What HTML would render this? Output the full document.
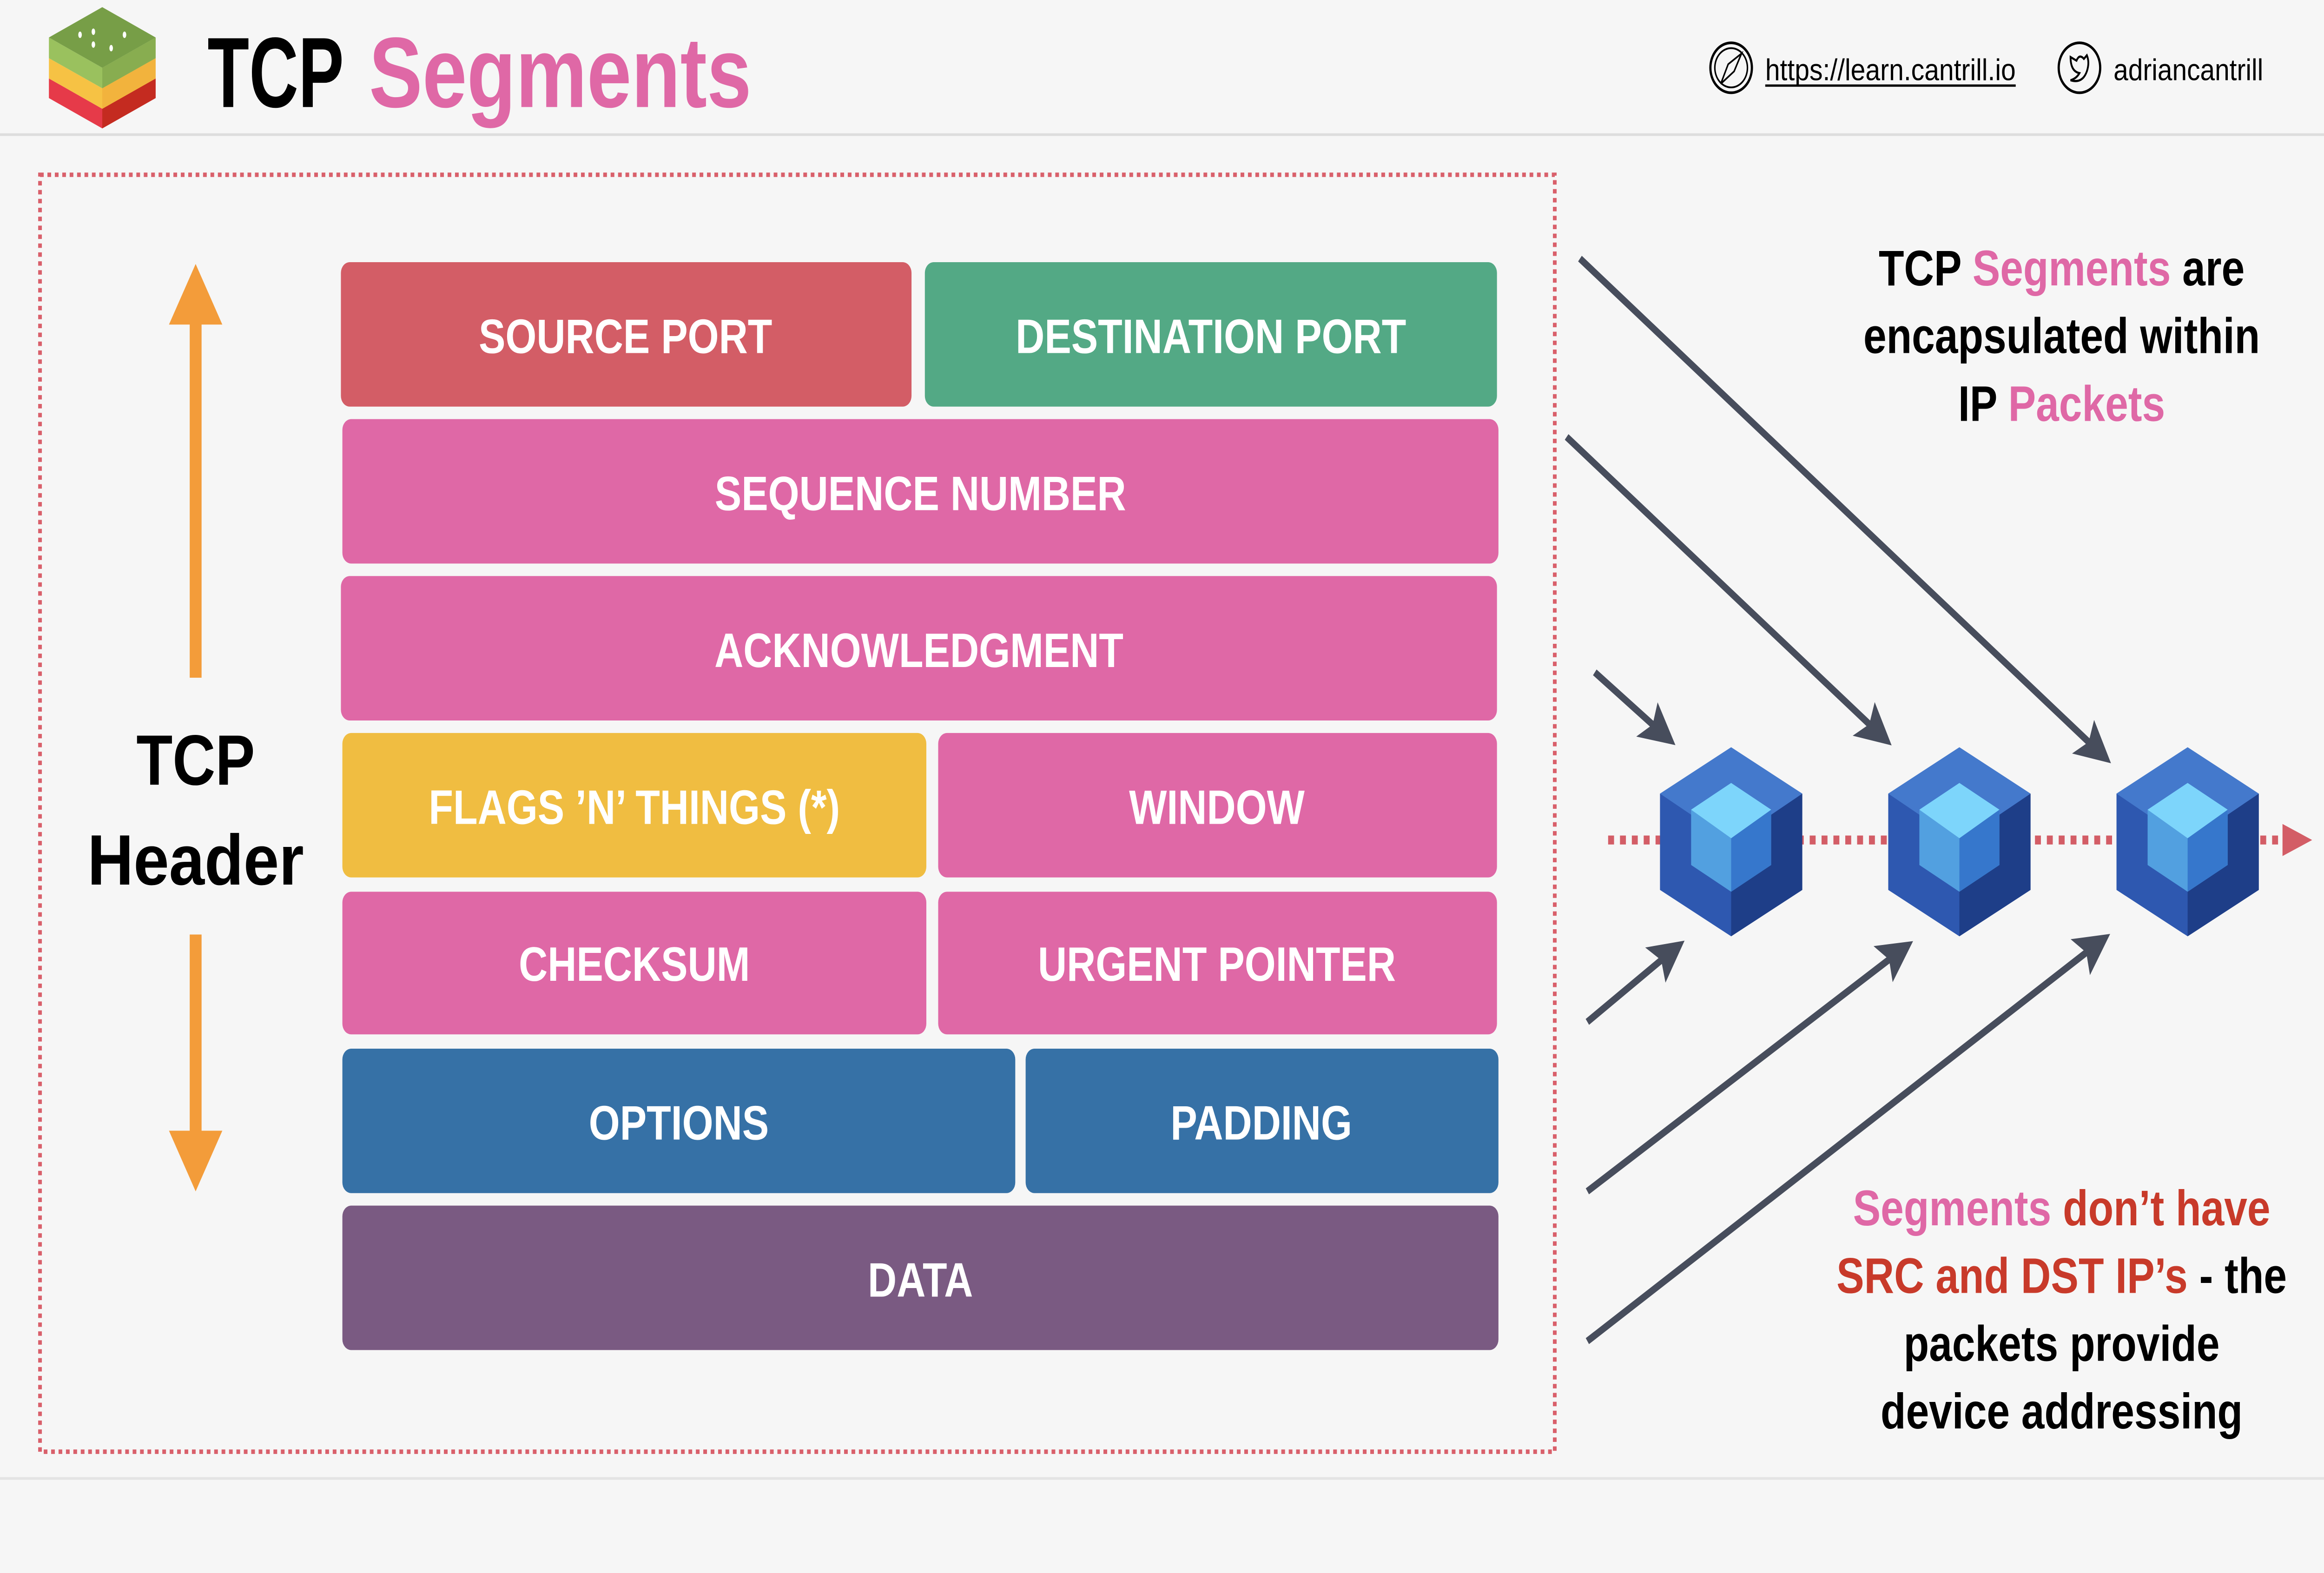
<!DOCTYPE html>
<html><head><meta charset="utf-8"><style>html,body{margin:0;padding:0;background:#f6f6f6;width:100%;height:100%;overflow:hidden}svg{display:block;position:fixed;left:0;top:0;width:100%;height:100%}</style></head>
<body>
<svg viewBox="0 0 1568 882" preserveAspectRatio="none" xmlns="http://www.w3.org/2000/svg" font-family="Liberation Sans, DejaVu Sans, sans-serif">
<rect width="1568" height="882" fill="#f6f6f6"/>
<!-- logo -->
<polygon points="33,44 69,61 105,44 105,55 69,72 33,55" fill="#e63a49"/>
<polygon points="69,61 105,44 105,55 69,72" fill="#c42b20"/>
<polygon points="33,32.6 69,49.5 105,32.6 105,44 69,61 33,44" fill="#f6c244"/>
<polygon points="69,49.5 105,32.6 105,44 69,61" fill="#f2b33d"/>
<polygon points="33,21 69,38 105,21 105,32.6 69,49.5 33,32.6" fill="#9ac15e"/>
<polygon points="69,38 105,21 105,32.6 69,49.5" fill="#88ad50"/>
<polygon points="69,4 105,21 69,38 33,21" fill="#779e47"/>
<g fill="#fff"><ellipse cx="54" cy="19.5" rx="1.2" ry="1.8"/><ellipse cx="63" cy="17.8" rx="1.2" ry="1.8"/><ellipse cx="84" cy="19.5" rx="1.2" ry="1.8"/><ellipse cx="63" cy="25" rx="1.2" ry="1.8"/><ellipse cx="75" cy="27" rx="1.2" ry="1.8"/></g>
<text x="140" y="60" font-size="56" font-weight="bold" fill="#000" textLength="92" lengthAdjust="spacingAndGlyphs">TCP</text>
<text x="249" y="60" font-size="56" font-weight="bold" fill="#df68a6" textLength="258" lengthAdjust="spacingAndGlyphs">Segments</text>
<circle cx="1168" cy="38" r="14" fill="none" stroke="#000" stroke-width="1.5"/>
<circle cx="1168" cy="38" r="11" fill="none" stroke="#000" stroke-width="1"/>
<polygon points="1175,30 1170,40 1161,47 1166,36" fill="none" stroke="#000" stroke-width="1"/>
<text x="1191" y="45" font-size="17" fill="#000" textLength="169" lengthAdjust="spacingAndGlyphs">https://learn.cantrill.io</text>
<line x1="1191" y1="48" x2="1360" y2="48" stroke="#000" stroke-width="1.3"/>
<circle cx="1403" cy="38" r="14" fill="none" stroke="#000" stroke-width="1.5"/>
<path d="M1397,32 q0,8 6,9 q-2,3 -6,4 q8,2 11,-5 q2,-5 0,-9 l-2,2 q-3,-3 -5,1 q-2,-1 -4,-2z" fill="none" stroke="#000" stroke-width="1.2"/>
<text x="1426" y="45" font-size="17" fill="#000" textLength="101" lengthAdjust="spacingAndGlyphs">adriancantrill</text>
<line x1="0" y1="75.5" x2="1568" y2="75.5" stroke="#dddddd" stroke-width="1.5"/>
<line x1="0" y1="829" x2="1568" y2="829" stroke="#e4e4e4" stroke-width="1.5"/>
<rect x="27" y="98" width="1022" height="716" fill="none" stroke="#d9606b" stroke-width="2.5" stroke-dasharray="2.5 2.5"/>
<g fill="#f39c3a">
<rect x="128" y="178" width="8" height="202"/><polygon points="132,148 150,182 114,182"/>
<rect x="128" y="524" width="8" height="114"/><polygon points="132,668 150,634 114,634"/>
</g>
<text x="132" y="440" font-size="40" font-weight="bold" text-anchor="middle" fill="#000">TCP</text>
<text x="132" y="496" font-size="40" font-weight="bold" text-anchor="middle" fill="#000" textLength="146" lengthAdjust="spacingAndGlyphs">Header</text>
<g font-size="27" font-weight="bold" fill="#fff" text-anchor="middle">
<rect x="230" y="147" width="385" height="81" rx="6" fill="#d35d66"/><text x="422" y="198">SOURCE PORT</text>
<rect x="624" y="147" width="386" height="81" rx="6" fill="#53a985"/><text x="817" y="198">DESTINATION PORT</text>
<rect x="231" y="235" width="780" height="81" rx="6" fill="#df68a6"/><text x="621" y="286">SEQUENCE NUMBER</text>
<rect x="230" y="323" width="780" height="81" rx="6" fill="#df68a6"/><text x="620" y="374">ACKNOWLEDGMENT</text>
<rect x="231" y="411" width="394" height="81" rx="6" fill="#f0bd41"/><text x="428" y="462">FLAGS ’N’ THINGS (*)</text>
<rect x="633" y="411" width="377" height="81" rx="6" fill="#df68a6"/><text x="821" y="462">WINDOW</text>
<rect x="231" y="500" width="394" height="80" rx="6" fill="#df68a6"/><text x="428" y="550">CHECKSUM</text>
<rect x="633" y="500" width="377" height="80" rx="6" fill="#df68a6"/><text x="821" y="550">URGENT POINTER</text>
<rect x="231" y="588" width="454" height="81" rx="6" fill="#3671a6"/><text x="458" y="639">OPTIONS</text>
<rect x="692" y="588" width="319" height="81" rx="6" fill="#3671a6"/><text x="851" y="639">PADDING</text>
<rect x="231" y="676" width="780" height="81" rx="6" fill="#7a5a82"/><text x="621" y="727">DATA</text>
</g>
<line x1="1085" y1="471" x2="1540" y2="471" stroke="#d35d66" stroke-width="5" stroke-dasharray="4 4"/>
<polygon points="1540,462 1560,471 1540,480" fill="#d35d66"/>
<defs><marker id="ah" markerWidth="6" markerHeight="6" refX="4" refY="3" orient="auto" markerUnits="strokeWidth"><polygon points="0,0 6,3 0,6 1.2,3" fill="#474d5c"/></marker></defs>
<g stroke="#474d5c" stroke-width="4" marker-end="url(#ah)">
<line x1="1066" y1="145" x2="1418" y2="423"/>
<line x1="1057" y1="245" x2="1270" y2="413"/>
<line x1="1076" y1="377" x2="1124" y2="413"/>
<line x1="1071" y1="573" x2="1130" y2="532"/>
<line x1="1071" y1="668" x2="1284" y2="532"/>
<line x1="1071" y1="752" x2="1417" y2="528"/>
</g>
<g id="cube">
<polygon points="1168,419 1216,445 1216,499 1168,525 1120,499 1120,445" fill="#2e58b0"/>
<polygon points="1168,472 1216,445 1216,499 1168,525" fill="#1e3e88"/>
<polygon points="1168,419 1216,445 1168,472 1120,445" fill="#4479cc"/>
<polygon points="1168,439 1195,454 1195,485 1168,500 1141,485 1141,454" fill="#52a0e0"/>
<polygon points="1168,470 1195,454 1195,485 1168,500" fill="#3677cc"/>
<polygon points="1168,439 1195,454 1168,470 1141,454" fill="#7dd5fb"/>
</g>
<use href="#cube" x="154"/>
<use href="#cube" x="308"/>
<g font-size="28" font-weight="bold" text-anchor="middle" fill="#000">
<text x="1391" y="160">TCP <tspan fill="#df68a6">Segments</tspan> are</text>
<text x="1391" y="198">encapsulated within</text>
<text x="1391" y="236">IP <tspan fill="#df68a6">Packets</tspan></text>
<text x="1391" y="687"><tspan fill="#df68a6">Segments</tspan><tspan fill="#c83a2a"> don’t have</tspan></text>
<text x="1391" y="725"><tspan fill="#c83a2a">SRC and DST IP’s</tspan> - the</text>
<text x="1391" y="763">packets provide</text>
<text x="1391" y="801">device addressing</text>
</g>
</svg>
</body></html>
